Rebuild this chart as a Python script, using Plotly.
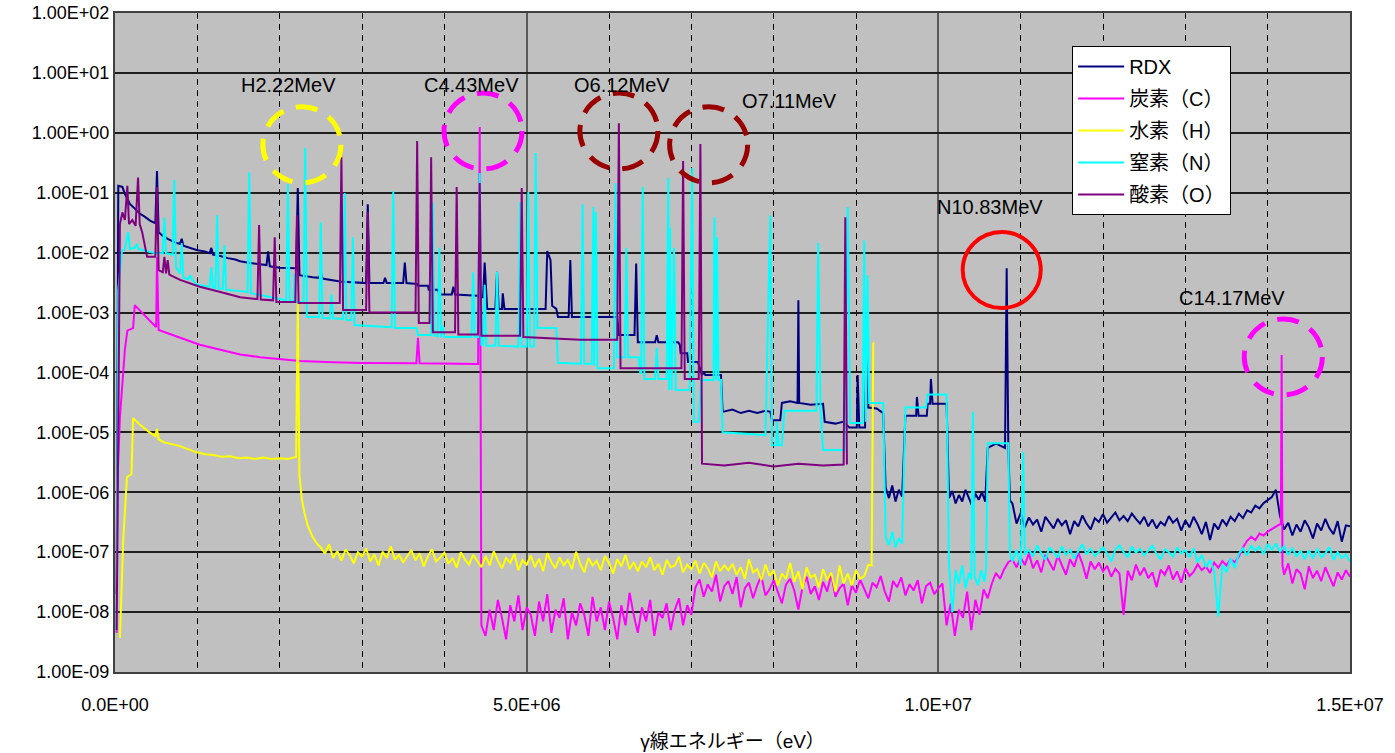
import plotly.graph_objects as go

# Labelled prompt-gamma lines (MeV)
H_LINE, C_LINE, O_LINE1, O_LINE2, N_LINE, C_LINE2 = 2.22, 4.43, 6.12, 7.11, 10.83, 14.17

CHANNEL_STEP = 0.05  # MeV, channel width of the noisy continuum sections

# ---------------- RDX ----------------
RDX_HEAD = [
    (0.02, 2e-8), (0.04, 0.13), (0.09, 0.125), (0.12, 0.095), (0.15, 0.08),
    (0.18, 0.065), (0.22, 0.058), (0.26, 0.052), (0.30, 0.045), (0.36, 0.040),
    (0.43, 0.034), (0.49, 0.031), (0.51, 0.23), (0.53, 0.022), (0.58, 0.019),
    (0.64, 0.017), (0.72, 0.015), (0.79, 0.014), (0.81, 0.017), (0.83, 0.013),
    (0.91, 0.012), (1.00, 0.011), (1.09, 0.0105), (1.15, 0.0098), (1.17, 0.012),
    (1.19, 0.0093), (1.28, 0.0088), (1.37, 0.0081), (1.46, 0.0077), (1.52, 0.0072),
    (1.62, 0.0068), (1.70, 0.0066), (1.80, 0.0062), (1.84, 0.0062), (1.86, 0.0105),
    (1.88, 0.0059), (2.00, 0.0056), (2.13, 0.0055), (2.20, 0.0055), (H_LINE, 0.12),
    (2.24, 0.0042), (2.40, 0.0039), (2.48, 0.0038), (2.50, 0.0047), (2.52, 0.0037),
    (2.73, 0.0033), (2.90, 0.0032), (3.05, 0.0031), (3.07, 0.064), (3.09, 0.0031),
    (3.26, 0.0031), (3.28, 0.0038), (3.30, 0.0031), (3.50, 0.0031), (3.52, 0.0068),
    (3.54, 0.0031), (3.67, 0.0030), (3.68, 0.0028), (3.80, 0.0028), (3.81, 0.0024),
    (3.92, 0.0024), (3.94, 0.0020), (4.09, 0.0020), (4.11, 0.0027), (4.13, 0.0020),
    (4.40, 0.0019), (4.42, 0.0018), (4.47, 0.0018), (4.49, 0.0068), (4.51, 0.0018),
    (4.52, 0.00115), (4.62, 0.00115), (4.64, 0.0048), (4.66, 0.00115), (4.70, 0.00115),
    (4.71, 0.0021), (4.73, 0.00115), (5.23, 0.00115), (5.25, 0.0106), (5.29, 0.0075),
    (5.31, 0.0013), (5.36, 0.00115), (5.38, 0.00084), (5.51, 0.00084), (5.53, 0.0075),
    (5.55, 0.00084), (6.10, 0.00084), (6.12, 0.00042), (6.31, 0.00042), (6.33, 0.0066),
    (6.35, 0.00032), (6.56, 0.00032), (6.58, 0.00042), (6.60, 0.00032), (6.84, 0.00032),
    (6.86, 0.00029), (6.87, 0.00021), (6.95, 0.00021), (6.96, 0.00015), (7.08, 0.00015),
    (7.13, 9.1e-5), (7.15, 1.0e-4), (7.17, 9.1e-5), (7.36, 9.1e-5), (7.38, 2.2e-5),
    (7.50, 2.4e-5), (7.60, 2.1e-5), (7.70, 2.3e-5), (7.80, 2.1e-5), (7.90, 2.3e-5),
    (7.96, 2.2e-5), (7.98, 1.6e-5), (8.08, 1.6e-5), (8.10, 3.1e-5), (8.20, 3.3e-5),
    (8.29, 3.1e-5), (8.30, 1.6e-3), (8.31, 3.1e-5), (8.45, 2.9e-5), (8.60, 3.0e-5),
    (8.62, 1.5e-5), (8.75, 1.4e-5), (8.84, 1.5e-5), (8.92, 1.2e-5), (9.01, 1.2e-5),
    (9.02, 9.1e-5), (9.04, 1.2e-5), (9.11, 1.2e-5), (9.13, 5.7e-4), (9.15, 2.6e-5),
    (9.25, 2.5e-5), (9.33, 2.1e-5), (9.36, 1.2e-6), (9.40, 8e-7), (9.44, 1.3e-6),
    (9.48, 7e-7), (9.52, 1.1e-6), (9.56, 8.5e-7), (9.60, 1.9e-5), (9.73, 1.9e-5),
    (9.74, 3.9e-5), (9.76, 1.9e-5), (9.86, 1.9e-5), (9.87, 3.0e-5), (9.90, 3.0e-5),
    (9.91, 7.8e-5), (9.93, 3.0e-5), (10.10, 3.0e-5), (10.13, 8e-7), (10.17, 1.05e-6),
    (10.21, 6.5e-7), (10.25, 9e-7), (10.29, 7e-7), (10.33, 1.1e-6), (10.37, 8e-7),
    (10.41, 6e-7), (10.45, 9.5e-7), (10.49, 7.5e-7), (10.53, 1.0e-6), (10.57, 7e-7),
    (10.60, 5.5e-6), (10.70, 6.5e-6), (10.81, 5.5e-6), (N_LINE, 0.0055), (10.85, 5.5e-6),
    (10.87, 7.3e-7),
]
RDX_TAIL_START = 10.90
RDX_TAIL_E7 = [  # units of 1e-7
    6.5, 3.0,
    4.5, 2.6, 3.8, 2.9, 3.5, 2.2, 3.9, 3.1, 2.5, 3.6,
    2.8, 3.4, 2.0, 3.3, 2.7, 4.1, 3.0, 2.4, 3.7, 3.2,
    4.3, 3.1, 3.8, 4.6, 3.4, 4.0, 3.3, 4.4, 3.6, 3.0,
    3.9, 2.7, 3.5, 2.5, 3.2, 2.8, 4.0, 3.1, 3.6, 2.3,
    3.4, 2.6, 3.9, 2.9, 2.0, 3.2, 1.6, 3.0, 2.4, 3.5,
    2.8, 3.9, 3.3, 4.4, 3.7, 5.0, 4.6, 6.0, 5.4, 6.6,
    7.4, 8.3, 11.0, 4.0, 2.4, 3.1, 1.9, 2.9, 2.2, 3.4,
    2.6, 1.7, 3.0, 2.3, 3.6, 2.5, 2.0, 3.3, 1.5, 2.8,
    2.7,
]

# ---------------- 炭素 (C) ----------------
C_HEAD = [
    (0.02, 4.5e-9), (0.03, 1.6e-6), (0.06, 1.8e-5), (0.09, 6.7e-5), (0.12, 2.4e-4),
    (0.15, 5.0e-4), (0.22, 5.5e-4), (0.24, 1.33e-3), (0.36, 8.8e-4), (0.45, 6.7e-4),
    (0.50, 5.7e-4), (0.51, 8.4e-3), (0.53, 5.1e-4), (0.79, 3.75e-4), (1.03, 2.9e-4),
    (1.28, 2.4e-4), (1.52, 2.0e-4), (1.76, 1.8e-4), (2.00, 1.67e-4), (2.25, 1.55e-4),
    (2.65, 1.48e-4), (3.00, 1.44e-4), (3.66, 1.42e-4), (3.68, 3.8e-4), (3.70, 1.42e-4),
    (4.41, 1.38e-4), (C_LINE, 1.25), (4.45, 6e-9),
]
C_TAIL_A_START = 4.50
C_TAIL_A_E8 = [  # units of 1e-8
    0.4, 1.1, 0.5, 1.6, 0.8, 0.35, 1.3, 0.7, 1.9, 0.5,
    1.2, 0.9, 0.4, 1.5, 0.7, 2.0, 0.45, 1.1, 0.8, 1.7,
    0.35, 1.0, 0.6, 1.4, 0.9, 0.4, 1.8, 0.7, 1.2, 0.5,
    1.5, 0.8, 0.35, 1.3, 0.6, 2.1, 0.9, 0.45, 1.2, 0.7,
    1.6, 0.4, 1.0, 0.8, 1.4, 0.5, 1.1, 1.7, 0.6, 1.3,
    0.9, 2.6, 3.5, 1.8, 2.9, 2.2, 4.2, 1.5, 2.7, 3.3,
    2.0, 3.8, 1.2, 2.5, 3.1, 1.7, 2.8, 4.0, 1.9, 2.4,
    3.4, 2.1, 1.4, 2.9, 3.6, 2.3, 1.1, 2.6, 3.9, 2.0,
    2.7, 1.6, 3.2, 2.2, 4.3, 1.8, 2.5, 3.0, 1.3, 2.8,
    2.1, 3.5, 2.4, 1.7, 3.1, 2.6, 4.0, 2.2, 1.5, 3.3,
    2.6, 3.8, 1.9, 2.9, 2.3, 3.4, 1.4, 2.7, 3.1, 2.0,
    2.5, 3.0, 0.6, 1.4, 0.4, 1.1, 0.8, 2.2, 0.5, 1.6,
    0.9, 2.4, 1.7, 3.0, 4.5, 3.6, 5.2, 6.8, 7.5, 5.6,
    8.2, 6.1, 9.5, 5.4, 7.3, 4.6, 9.0, 6.5, 5.0, 8.8,
    6.2, 4.2, 7.6, 5.7, 9.8, 6.4, 3.6, 7.0, 5.2, 6.7,
    4.8, 5.9, 3.9, 5.3, 4.4, 0.9, 4.9, 3.4, 6.2, 4.1,
    5.5, 3.7, 4.6, 2.6, 5.1, 4.2, 6.0, 3.5, 4.8, 3.1,
    5.4, 4.0, 4.7, 6.3, 5.0, 5.8, 4.5, 6.7, 5.5, 7.1,
    6.0, 7.6, 6.8, 8.5, 12.0, 15.5, 18.0, 16.0, 20.5, 19.0,
    22.0, 24.0, 27.0,
]
C_PEAK = [(14.16, 3.0e-7), (C_LINE2, 1.95e-4), (14.18, 6e-8)]
C_TAIL_B_START = 14.20
C_TAIL_B_E8 = [4.2, 6.5, 3.0, 5.2, 4.4, 2.4, 5.8, 3.7, 4.9, 3.3,
               5.6, 4.0, 2.7, 4.6, 3.5, 5.0, 3.9]

# ---------------- 水素 (H) ----------------
H_HEAD = [
    (0.06, 3.7e-9), (0.085, 3.4e-8), (0.10, 1.6e-7), (0.145, 1.8e-6), (0.20, 2.0e-6),
    (0.22, 1.73e-5), (0.30, 1.35e-5), (0.40, 1.05e-5), (0.49, 8.6e-6), (0.51, 1.15e-5),
    (0.53, 7.6e-6), (0.60, 6.8e-6), (0.79, 5.9e-6), (1.00, 4.6e-6), (1.10, 4.3e-6),
    (1.20, 4.2e-6), (1.30, 3.9e-6), (1.40, 4.0e-6), (1.50, 3.7e-6), (1.60, 3.8e-6),
    (1.70, 3.6e-6), (1.80, 3.8e-6), (1.90, 3.6e-6), (2.00, 3.7e-6), (2.10, 3.6e-6),
    (2.20, 3.9e-6), (H_LINE, 1.5e-3), (2.24, 1.9e-6), (2.27, 7.6e-7), (2.30, 4.6e-7),
    (2.34, 2.8e-7), (2.40, 1.8e-7), (2.45, 1.4e-7),
]
H_TAIL_START = 2.50
H_TAIL_E8 = [  # units of 1e-8
    12.0, 9.5, 13.5, 8.0, 10.5, 7.2, 11.0, 9.0, 6.5, 10.0,
    8.4, 11.5, 7.0, 9.2, 6.0, 10.2, 8.0, 12.5, 7.5, 9.0,
    6.8, 8.8, 10.8, 7.3, 9.6, 5.8, 8.5, 11.2, 7.0, 8.2,
    9.8, 6.4, 8.0, 5.5, 10.0, 7.6, 6.2, 9.0, 7.0, 5.6,
    8.6, 6.0, 10.4, 7.2, 5.4, 8.0, 6.6, 9.4, 5.0, 7.4,
    6.2, 8.8, 5.6, 7.8, 4.8, 9.6, 6.8, 5.4, 8.2, 6.0,
    7.4, 5.2, 10.2, 6.4, 4.6, 8.0, 6.0, 7.2, 5.0, 8.6,
    6.6, 4.4, 7.6, 5.8, 9.0, 5.2, 6.8, 4.8, 7.0, 5.6,
    8.2, 5.0, 6.4, 4.2, 7.4, 5.6, 6.0, 8.4, 4.6, 6.2,
    5.2, 7.2, 4.4, 6.6, 5.4, 3.8, 7.0, 4.8, 6.0, 5.0,
    6.4, 4.2, 5.6, 3.6, 7.6, 4.6, 5.2, 3.4, 6.2, 4.0,
    5.0, 2.8, 4.4, 3.6, 6.6, 3.2, 4.8, 2.4, 5.6, 3.8,
    4.2, 2.6, 5.2, 3.4, 4.6, 2.2, 6.0, 3.0, 4.4, 2.8,
    5.0, 3.6, 4.0, 6.2,
]
H_END = [(9.19, 6e-8), (9.21, 3.2e-4)]

# ---------------- 窒素 (N) ----------------
N_HEAD = [
    (0.02, 5e-9), (0.04, 0.0024), (0.085, 0.0107), (0.12, 0.0115), (0.16, 0.022),
    (0.18, 0.0115), (0.24, 0.012), (0.27, 0.014), (0.28, 0.0115), (0.36, 0.0107),
    (0.49, 0.0098), (0.58, 0.0098), (0.60, 0.038), (0.62, 0.0098), (0.70, 0.0092),
    (0.72, 0.163), (0.74, 0.0057), (0.79, 0.0045), (0.81, 0.0145), (0.83, 0.0038),
    (0.89, 0.0036), (0.91, 0.0042), (0.94, 0.0035), (1.00, 0.0029), (1.15, 0.0027),
    (1.17, 0.0057), (1.19, 0.0026), (1.22, 0.0026), (1.24, 0.0425), (1.26, 0.0025),
    (1.31, 0.0025), (1.33, 0.0134), (1.35, 0.0024), (1.50, 0.0023), (1.61, 0.0022),
    (1.63, 0.22), (1.65, 0.0021), (1.90, 0.0018), (2.08, 0.0016), (2.10, 0.14),
    (2.12, 0.0016), (2.17, 0.0015), (2.18, 0.0045), (2.19, 0.0015), (2.29, 0.0015),
    (2.31, 0.56), (2.33, 0.00084), (2.48, 0.00084), (2.50, 0.032), (2.52, 0.00082),
    (2.61, 0.0008), (2.63, 0.002), (2.65, 0.0008), (2.77, 0.00078), (2.79, 0.099),
    (2.81, 0.00075), (2.87, 0.00075), (2.89, 0.018), (2.91, 0.00062), (3.36, 0.00057),
    (3.38, 0.107), (3.40, 0.00055), (3.66, 0.00055), (3.68, 0.00042), (3.84, 0.00042),
    (3.86, 0.068), (3.88, 0.00041), (3.92, 0.00040), (3.94, 0.012), (3.96, 0.00039),
    (3.98, 0.0006), (4.00, 0.00039), (4.33, 0.00039), (4.35, 0.0047), (4.37, 0.00039),
    (4.41, 0.00039), (C_LINE, 0.213), (4.45, 0.00029), (4.47, 0.00029), (4.49, 0.0029),
    (4.51, 0.00028), (4.62, 0.00028), (4.64, 0.0048), (4.66, 0.00028), (4.90, 0.00027),
    (4.92, 0.070), (4.94, 0.00027), (5.00, 0.00027), (5.02, 0.103), (5.04, 0.00027),
    (5.09, 0.00027), (5.11, 0.46), (5.13, 0.00055), (5.36, 0.00055), (5.38, 0.000145),
    (5.66, 0.00014), (5.68, 0.064), (5.70, 0.00014), (5.79, 0.00014), (5.81, 0.058),
    (5.82, 0.00013), (5.84, 0.047), (5.86, 0.000118), (6.06, 0.000118), (6.08, 0.145),
    (6.10, 0.00018), (6.19, 0.00018), (6.21, 0.012), (6.23, 0.00018), (6.36, 0.00018),
    (6.38, 0.000098), (6.39, 0.000098), (6.41, 0.124), (6.43, 7.8e-5), (6.56, 7.8e-5),
    (6.58, 0.000255), (6.60, 7.8e-5), (6.70, 7.8e-5), (6.72, 0.176), (6.73, 5.1e-5),
    (6.74, 0.026), (6.76, 5.1e-5), (6.79, 0.012), (6.81, 5.1e-5), (6.98, 5.1e-5),
    (7.01, 0.258), (7.03, 1.5e-5), (7.09, 1.5e-5), (7.12, 7.5e-5), (7.27, 7.5e-5),
    (7.28, 0.039), (7.30, 7.5e-5), (7.31, 0.018), (7.33, 7.5e-5), (7.36, 7.5e-5),
    (7.38, 1.0e-5), (7.60, 9.5e-6), (7.90, 9.0e-6), (7.96, 0.042), (7.98, 6.1e-6),
    (8.03, 6.1e-6), (8.04, 1.5e-5), (8.06, 6.1e-6), (8.10, 6.1e-6), (8.13, 2.3e-5),
    (8.52, 2.3e-5), (8.54, 0.0145), (8.57, 2.3e-5), (8.60, 5.1e-6), (8.86, 5.1e-6),
    (8.90, 0.058), (8.93, 1.43e-5), (9.08, 1.43e-5), (9.10, 0.016), (9.12, 1.5e-5),
    (9.14, 0.0042), (9.16, 3.1e-5), (9.33, 3.1e-5), (9.36, 1.8e-7), (9.40, 1.3e-7),
    (9.44, 2.2e-7), (9.48, 1.2e-7), (9.52, 1.7e-7), (9.56, 1.4e-7), (9.60, 2.6e-5),
    (9.85, 2.6e-5), (9.87, 4.3e-5), (10.10, 4.3e-5), (10.13, 6e-8), (10.17, 1e-8),
    (10.21, 5e-8), (10.25, 3e-8), (10.29, 6e-8), (10.33, 2.5e-8), (10.37, 4.5e-8),
    (10.40, 3.5e-8), (10.42, 2.2e-5), (10.44, 4e-8), (10.48, 2.8e-8), (10.52, 5e-8),
    (10.56, 3.2e-8), (10.58, 5.5e-8), (10.60, 6.6e-6), (10.85, 6.6e-6), (10.87, 1.0e-7),
    (10.90, 7e-8), (10.95, 1.1e-7), (11.00, 6e-8), (11.03, 4.7e-6), (11.05, 9e-8),
]
N_TAIL_START = 11.10
N_TAIL_E8 = [  # units of 1e-8
    11, 8.5, 13, 9.5, 7.5, 12, 10, 8,
    12.5, 9, 11, 7.8, 10.5, 13.5, 9.2, 11.5, 8.6, 10.2,
    12, 9.5, 7, 11, 13, 10, 8.2, 12.4, 9.8, 11.4,
    8.8, 10.6, 12.8, 9.4, 7.6, 11.2, 10, 8.4, 12, 9.6,
    10.8, 8.2, 11.6, 6.8, 9, 5.6, 7.4, 4.8, 0.85, 6.2,
    4.6, 7.8, 5.4, 9.4, 11.6, 8.8, 13, 10.6, 12.4, 9.2,
    13.6, 11, 14, 10.2, 12.6, 9, 11.8, 8.4, 10.6, 7.6,
    10.8, 7.8, 11.4, 8.2, 9.6, 12.2, 7.4, 10, 8, 9.2,
    7,
]

# ---------------- 酸素 (O) ----------------
O_PTS = [
    (0.02, 5e-9), (0.06, 0.030), (0.09, 0.047), (0.12, 0.035), (0.15, 0.13),
    (0.17, 0.030), (0.21, 0.035), (0.25, 0.028), (0.28, 0.18), (0.30, 0.030),
    (0.33, 0.022), (0.37, 0.012), (0.39, 0.0085), (0.49, 0.0085), (0.51, 0.125),
    (0.53, 0.0051), (0.58, 0.0047), (0.60, 0.0085), (0.62, 0.0045), (0.64, 0.0075),
    (0.66, 0.0043), (0.79, 0.0035), (1.03, 0.0027), (1.28, 0.0022), (1.52, 0.0018),
    (1.73, 0.00168), (1.75, 0.029), (1.77, 0.00165), (1.92, 0.0016), (1.94, 0.018),
    (1.96, 0.0015), (2.19, 0.0015), (2.21, 0.042), (2.23, 0.00144), (2.73, 0.00144),
    (2.75, 0.39), (2.77, 0.0011), (3.05, 0.0011), (3.07, 0.048), (3.09, 0.0010),
    (3.65, 0.0010), (3.67, 0.73), (3.69, 0.00067), (3.82, 0.00067), (3.84, 0.39),
    (3.86, 0.00047), (4.13, 0.00047), (4.15, 0.124), (4.17, 0.00043), (4.41, 0.00043),
    (C_LINE, 0.145), (4.45, 0.00041), (4.92, 0.00041), (4.94, 0.12), (4.96, 0.00039),
    (5.65, 0.00035), (6.10, 0.00035), (O_LINE1, 1.45), (6.14, 0.000118), (6.88, 0.000118),
    (6.90, 0.34), (6.92, 7.8e-5), (7.09, 7.8e-5), (O_LINE2, 0.65), (7.13, 3.0e-6),
    (7.40, 2.8e-6), (7.70, 3.1e-6), (8.00, 2.7e-6), (8.30, 3.0e-6), (8.60, 2.8e-6),
    (8.85, 2.9e-6), (8.87, 0.039), (8.89, 2.9e-6),
]

Y_TICK_VALS = [1e2, 1e1, 1e0, 1e-1, 1e-2, 1e-3, 1e-4, 1e-5, 1e-6, 1e-7, 1e-8, 1e-9]
Y_TICK_TEXT = ["1.00E+02", "1.00E+01", "1.00E+00", "1.00E-01", "1.00E-02", "1.00E-03",
               "1.00E-04", "1.00E-05", "1.00E-06", "1.00E-07", "1.00E-08", "1.00E-09"]
X_TICK_VALS = [0, 5e6, 1e7, 1.5e7]
X_TICK_TEXT = ["0.0E+00", "5.0E+06", "1.0E+07", "1.5E+07"]


def channels(start, values, unit):
    """Continuum channels: energies on the channel grid, values scaled by unit."""
    return [(round(start + CHANNEL_STEP * i, 3), v * unit) for i, v in enumerate(values)]


def to_xy(points):
    return [e * 1e6 for e, _ in points], [v for _, v in points]


rdx = RDX_HEAD + channels(RDX_TAIL_START, RDX_TAIL_E7, 1e-7)
carbon = (C_HEAD + channels(C_TAIL_A_START, C_TAIL_A_E8, 1e-8) + C_PEAK
          + channels(C_TAIL_B_START, C_TAIL_B_E8, 1e-8))
hydrogen = H_HEAD + channels(H_TAIL_START, H_TAIL_E8, 1e-8) + H_END
nitrogen = N_HEAD + channels(N_TAIL_START, N_TAIL_E8, 1e-8)
oxygen = O_PTS

SERIES = [
    ("RDX", rdx, "#000080"),
    ("炭素（C）", carbon, "#FF00FF"),
    ("水素（H）", hydrogen, "#FFFF00"),
    ("窒素（N）", nitrogen, "#00FFFF"),
    ("酸素（O）", oxygen, "#800080"),
]

FONT = "Liberation Sans, Arial, Noto Sans CJK JP, sans-serif"

fig = go.Figure()
for name, pts, color in SERIES:
    x, y = to_xy(pts)
    fig.add_trace(go.Scatter(x=x, y=y, mode="lines", name=name, legendgroup=name,
                             line=dict(color=color, width=2)))

# Peak labels: text, centre energy (MeV), centre height (log10)
LABELS = [
    (f"H{H_LINE:.2f}MeV", 2.11, 0.80),
    (f"C{C_LINE:.2f}MeV", 4.33, 0.80),
    (f"O{O_LINE1:.2f}MeV", 6.16, 0.80),
    (f"O{O_LINE2:.2f}MeV", 8.19, 0.53),
    (f"N{N_LINE:.2f}MeV", 10.63, -1.24),
    (f"C{C_LINE2:.2f}MeV", 13.57, -2.76),
]
for text, ex, ly in LABELS:
    fig.add_annotation(x=ex * 1e6, y=ly, text=text, showarrow=False,
                       font=dict(family=FONT, size=20, color="black"))

# Rings around the peaks: centre energy (MeV), centre height (log10), colour, dash, width
RING_RX = 0.474   # MeV
RING_RY = 0.634   # decades
RINGS = [
    (2.27, -0.20, "#FFFF00", "22px,13px", 5),
    (4.47, 0.03, "#FF00FF", "22px,13px", 5),
    (6.12, 0.03, "#990000", "22px,13px", 5),
    (7.21, -0.20, "#990000", "22px,13px", 5),
    (10.77, -2.29, "#FF0000", "solid", 4),
    (14.19, -3.74, "#FF00FF", "22px,13px", 5),
]
for ex, ly, color, dash, w in RINGS:
    fig.add_shape(type="circle", xref="x", yref="y",
                  x0=(ex - RING_RX) * 1e6, x1=(ex + RING_RX) * 1e6,
                  y0=10 ** (ly - RING_RY), y1=10 ** (ly + RING_RY),
                  line=dict(color=color, width=w, dash=dash))

fig.update_layout(
    width=1395, height=753,
    margin=dict(l=115, r=45, t=13, b=81, pad=0, autoexpand=False),
    paper_bgcolor="white", plot_bgcolor="#C0C0C0",
    font=dict(family=FONT, size=18, color="black"),
    showlegend=True,
    legend=dict(x=0.775, y=0.950, xanchor="left", yanchor="top",
                bgcolor="white", bordercolor="black", borderwidth=1,
                font=dict(family=FONT, size=20, color="black"),
                itemwidth=46, tracegroupgap=3),
    xaxis=dict(range=[0, 1.5e7], tickvals=X_TICK_VALS, ticktext=X_TICK_TEXT,
               automargin=False,
               showgrid=True, gridcolor="#5a5a5a", gridwidth=1.5, zeroline=False,
               minor=dict(dtick=1e6, tick0=0, showgrid=True, gridcolor="black",
                          gridwidth=1, griddash="6px,5px"),
               showline=True, mirror=True, linecolor="#404040", linewidth=2,
               ticks="outside", ticklen=15, tickcolor="rgba(0,0,0,0)",
               tickfont=dict(family=FONT, size=18),
               title=dict(text="γ線エネルギー（eV）", font=dict(family=FONT, size=19),
                          standoff=21)),
    yaxis=dict(type="log", range=[-9, 2], tickvals=Y_TICK_VALS, ticktext=Y_TICK_TEXT,
               automargin=False,
               showgrid=True, gridcolor="#1e1e1e", gridwidth=1.5, zeroline=False,
               showline=True, mirror=True, linecolor="#404040", linewidth=2,
               ticks="", tickfont=dict(family=FONT, size=18)),
)

fig.write_html("out.html")
